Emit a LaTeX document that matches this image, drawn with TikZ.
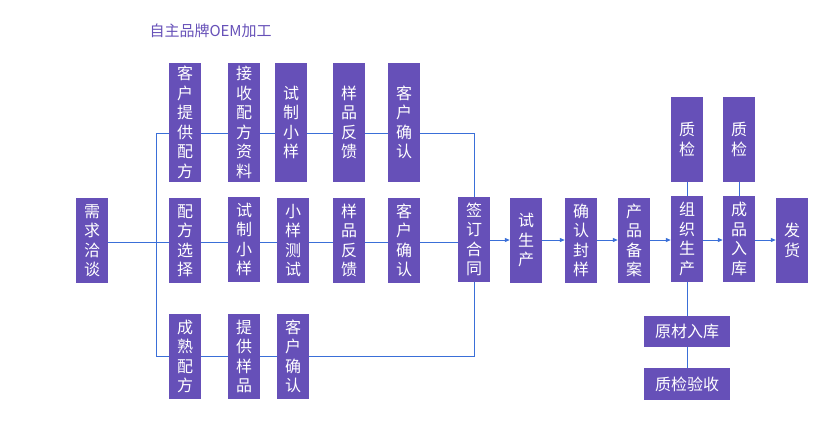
\documentclass[tikz,border=0pt]{standalone}
\usepackage{fontspec}
\setmainfont{Noto Sans CJK SC}
\usetikzlibrary{arrows.meta}
\definecolor{bxc}{HTML}{6650B8}
\definecolor{lnc}{HTML}{3A6FD8}
\tikzset{
 bx/.style={fill=bxc,text=white,inner sep=0pt,minimum width=32pt,align=center,font=\fontsize{16}{19.5}\selectfont},
 ln/.style={draw=lnc,line width=1pt},
 ar/.style={ln,-{Triangle[length=5pt,width=4pt]}}
}
\newcommand{\bxn}[6]{\node[bx,minimum width=#5,minimum height=#6] (#1) at (#2,#3) {#4};}
\begin{document}
\begin{tikzpicture}[x=1pt,y=-1pt]
\useasboundingbox (0,0) rectangle (820,431);
\node[text=bxc,font=\fontsize{15}{18}\selectfont,anchor=west] (title) at (146,31) {自主品牌OEM加工};
\bxn{xq}{92}{240.5}{需\\求\\洽\\谈}{32pt}{85pt}
% top row
\bxn{t1}{185}{122.5}{客\\户\\提\\供\\配\\方}{32pt}{119pt}
\bxn{t2}{244}{122.5}{接\\收\\配\\方\\资\\料}{32pt}{119pt}
\bxn{t3}{291}{122.5}{试\\制\\小\\样}{32pt}{119pt}
\bxn{t4}{349}{122.5}{样\\品\\反\\馈}{32pt}{119pt}
\bxn{t5}{404}{122.5}{客\\户\\确\\认}{32pt}{119pt}
% middle row
\bxn{m1}{185}{240.5}{配\\方\\选\\择}{32pt}{85pt}
\bxn{m2}{244}{239.5}{试\\制\\小\\样}{32pt}{85pt}
\bxn{m3}{293}{240.5}{小\\样\\测\\试}{32pt}{85pt}
\bxn{m4}{349}{240.5}{样\\品\\反\\馈}{32pt}{85pt}
\bxn{m5}{404}{240.5}{客\\户\\确\\认}{32pt}{85pt}
% bottom row
\bxn{b1}{185}{356.5}{成\\熟\\配\\方}{32pt}{85pt}
\bxn{b2}{244}{356.5}{提\\供\\样\\品}{32pt}{85pt}
\bxn{b3}{293}{356.5}{客\\户\\确\\认}{32pt}{85pt}
% right part
\bxn{qd}{474}{239.5}{签\\订\\合\\同}{32pt}{85pt}
\bxn{ss}{526}{240.5}{试\\生\\产}{32pt}{85pt}
\bxn{qr}{581}{240.5}{确\\认\\封\\样}{32pt}{85pt}
\bxn{ba}{634}{240.5}{产\\品\\备\\案}{32pt}{85pt}
\bxn{zz}{687}{239}{组\\织\\生\\产}{32pt}{86pt}
\bxn{cp}{739}{239}{成\\品\\入\\库}{32pt}{86pt}
\bxn{fh}{792}{240.5}{发\\货}{32pt}{85pt}
\bxn{q1}{687}{139.5}{质\\检}{32pt}{85pt}
\bxn{q2}{739}{139.5}{质\\检}{32pt}{85pt}
\bxn{yc}{687}{331.5}{原材入库}{86pt}{31pt}
\bxn{zy}{687}{384}{质检验收}{86pt}{32pt}
\coordinate (ty) at (0,133);
\coordinate (my) at (0,242);
\coordinate (by) at (0,356);
\coordinate (ry) at (0,240);
\coordinate (trT) at (156,133);
\coordinate (trB) at (156,356);
% left lines
\draw[ln] (xq.east |- my) -- (m1.west |- my);
\draw[ln] (trT) -- (trB);
\draw[ln] (trT) -- (t1.west |- ty);
\draw[ln] (trB) -- (b1.west |- by);
\draw[ln] (t1.east |- ty) -- (t2.west |- ty);
\draw[ln] (t2.east |- ty) -- (t3.west |- ty);
\draw[ln] (t3.east |- ty) -- (t4.west |- ty);
\draw[ln] (t4.east |- ty) -- (t5.west |- ty);
\draw[ln] (t5.east |- ty) -| (qd.north);
\draw[ln] (m1.east |- my) -- (m2.west |- my);
\draw[ln] (m2.east |- my) -- (m3.west |- my);
\draw[ln] (m3.east |- my) -- (m4.west |- my);
\draw[ln] (m4.east |- my) -- (m5.west |- my);
\draw[ln] (m5.east |- my) -- (qd.west |- my);
\draw[ln] (b1.east |- by) -- (b2.west |- by);
\draw[ln] (b2.east |- by) -- (b3.west |- by);
\draw[ln] (b3.east |- by) -| (qd.south);
% right arrows
\draw[ar] (qd.east |- ry) -- (ss.west |- ry);
\draw[ar] (ss.east |- ry) -- (qr.west |- ry);
\draw[ar] (qr.east |- ry) -- (ba.west |- ry);
\draw[ar] (ba.east |- ry) -- (zz.west |- ry);
\draw[ar] (zz.east |- ry) -- (cp.west |- ry);
\draw[ar] (cp.east |- ry) -- (fh.west |- ry);
\draw[ln] (q1.south) -- (zz.north);
\draw[ln] (q2.south) -- (cp.north);
\draw[ln] (zz.south) -- (yc.north);
\draw[ln] (yc.south) -- (zy.north);
\end{tikzpicture}
\end{document}
